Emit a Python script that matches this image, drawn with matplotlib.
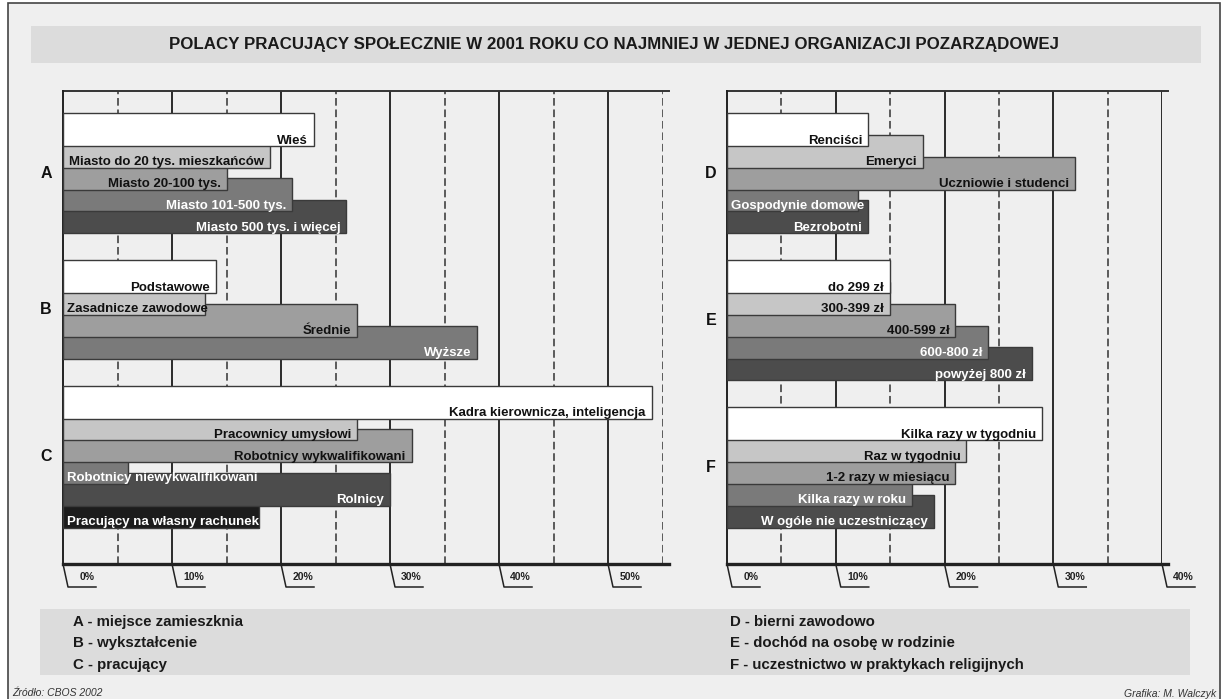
import matplotlib
matplotlib.use("Agg")
import matplotlib.pyplot as plt
import matplotlib.transforms as mtransforms
from matplotlib.patches import Rectangle

plt.rcParams['font.family'] = ['Liberation Sans', 'DejaVu Sans']

TITLE = "POLACY PRACUJĄCY SPOŁECZNIE W 2001 ROKU CO NAJMNIEJ W JEDNEJ ORGANIZACJI POZARZĄDOWEJ"

# A - miejsce zamieszkania
labels_a = ["Wieś", "Miasto do 20 tys. mieszkańców", "Miasto 20-100 tys.",
            "Miasto 101-500 tys.", "Miasto 500 tys. i więcej"]
values_a = [23, 19, 15, 21, 26]
# B - wyksztalcenie
labels_b = ["Podstawowe", "Zasadnicze zawodowe", "Średnie", "Wyższe"]
values_b = [14, 13, 27, 38]
# C - pracujacy
labels_c = ["Kadra kierownicza, inteligencja", "Pracownicy umysłowi",
            "Robotnicy wykwalifikowani", "Robotnicy niewykwalifikowani",
            "Rolnicy", "Pracujący na własny rachunek"]
values_c = [54, 27, 32, 6, 30, 18]
# D - bierni zawodowo
labels_d = ["Renciści", "Emeryci", "Uczniowie i studenci", "Gospodynie domowe", "Bezrobotni"]
values_d = [13, 18, 32, 12, 13]
# E - dochod
labels_e = ["do 299 zł", "300-399 zł", "400-599 zł", "600-800 zł", "powyżej 800 zł"]
values_e = [15, 15, 21, 24, 28]
# F - praktyki religijne
labels_f = ["Kilka razy w tygodniu", "Raz w tygodniu", "1-2 razy w miesiącu",
            "Kilka razy w roku", "W ogóle nie uczestniczący"]
values_f = [29, 22, 21, 17, 19]

legend_left = ["A - miejsce zamieszknia", "B - wykształcenie", "C - pracujący"]
legend_right = ["D - bierni zawodowo", "E - dochód na osobę w rodzinie",
                "F - uczestnictwo w praktykach religijnych"]
ticks_left = [0, 10, 20, 30, 40, 50]
ticks_right = [0, 10, 20, 30, 40]

SHADES = ["#ffffff", "#c6c6c6", "#9e9e9e", "#7a7a7a", "#4c4c4c", "#1c1c1c"]
W, H = 1223, 699
PANEL_TOP, PANEL_BOTTOM = 91, 564
PH = PANEL_BOTTOM - PANEL_TOP
BAR_H, STEP, GAP = 33, 21.8, 27

fig = plt.figure(figsize=(W / 100, H / 100), dpi=100)
fig.patch.set_facecolor("white")
bg = fig.add_axes([0, 0, 1, 1])
bg.set_xlim(0, W)
bg.set_ylim(H, 0)
bg.axis("off")

# ramka, pas tytulu, pas legendy
bg.add_patch(Rectangle((8, 3), 1212, 720, fc="#efefef", ec="#444444", lw=1.2))
bg.add_patch(Rectangle((31, 26), 1170, 37, fc="#dcdcdc", ec="none"))
bg.add_patch(Rectangle((40, 609), 1150, 66, fc="#dcdcdc", ec="none"))
bg.text(614, 45, TITLE, ha="center", va="center", fontsize=12.2,
        fontweight="bold", color="#1a1a1a")

for i, txt in enumerate(legend_left):
    bg.text(73, 622 + i * 21.5, txt, ha="left", va="center", fontsize=10.8,
            fontweight="bold", color="#1a1a1a")
for i, txt in enumerate(legend_right):
    bg.text(730, 622 + i * 21.5, txt, ha="left", va="center", fontsize=10.8,
            fontweight="bold", color="#1a1a1a")

bg.text(12, 693, "Źródło: CBOS 2002", ha="left", va="center", fontsize=7.5,
        style="italic", color="#333333")
bg.text(1216, 694, "Grafika: M. Walczyk", ha="right", va="center", fontsize=7.5,
        style="italic", color="#333333")

renderer = fig.canvas.get_renderer()


def make_panel(x0, width, xmax, ticks):
    ax = fig.add_axes([x0 / W, (H - PANEL_BOTTOM) / H, width / W, PH / H])
    ax.set_xlim(0, xmax)
    ax.set_ylim(PH, 0)
    ax.patch.set_alpha(0)
    ax.set_xticks([])
    ax.set_yticks([])
    for v in range(5, xmax + 1, 5):
        if v % 10 == 0:
            ax.axvline(v, color="#2a2a2a", lw=1.4, zorder=1)
        else:
            ax.axvline(v, color="#333333", lw=1.1, ls=(0, (5, 2.5)), zorder=1)
    for side in ["right", "top", "bottom"]:
        ax.spines[side].set_visible(False)
    ax.spines["left"].set_linewidth(1.4)
    ax.spines["left"].set_color("#222222")
    ppu = width / xmax
    ext = xmax + 6 / ppu
    ax.plot([0, ext], [0, 0], color="#333333", lw=1.4, clip_on=False, zorder=2)
    ax.plot([0, ext], [PH, PH], color="#222222", lw=2.4, clip_on=False, zorder=30)
    # podpisy osi w "zakladkach"
    for t in ticks:
        ax.plot([t, t + 5 / ppu, t + 33 / ppu], [PH, PH + 23, PH + 23],
                color="#222222", lw=1.1, clip_on=False)
        ax.text(t + 32 / ppu, PH + 13, f"{t}%", ha="right", va="center",
                fontsize=7.5, fontweight="bold", color="#222222")
    return ax, ppu


def draw_group(ax, ppu, labels, values, top, letter, letter_x):
    trans = mtransforms.blended_transform_factory(bg.transData, ax.transData)
    for i, (lab, val) in enumerate(zip(labels, values)):
        y = top + i * STEP
        ax.barh(y + BAR_H / 2, val, height=BAR_H, color=SHADES[i],
                edgecolor="#3a3a3a", lw=1, zorder=10 - i)
        col = "#111111" if i < 3 else "white"
        t = ax.text(val - 6 / ppu, y + BAR_H - 2.5, lab, ha="right", va="baseline",
                    fontsize=9.5, fontweight="bold", color=col, zorder=20)
        left_px = t.get_window_extent(renderer).x0
        if left_px < ax.transData.transform((0, 0))[0] + 4:
            t.set_ha("left")
            t.set_x(4 / ppu)
    bottom = top + (len(labels) - 1) * STEP + BAR_H
    ax.text(letter_x, (top + bottom) / 2, letter, transform=trans, ha="center",
            va="center", fontsize=11.5, fontweight="bold", color="#111111")
    return bottom + GAP


ax1, ppu1 = make_panel(63, 599.5, 55, ticks_left)
ax2, ppu2 = make_panel(727, 435, 40, ticks_right)

top = 22
top = draw_group(ax1, ppu1, labels_a, values_a, top, "A", 46)
top = draw_group(ax1, ppu1, labels_b, values_b, top, "B", 46)
top = draw_group(ax1, ppu1, labels_c, values_c, top, "C", 46)

top = 22
top = draw_group(ax2, ppu2, labels_d, values_d, top, "D", 711)
top = draw_group(ax2, ppu2, labels_e, values_e, top, "E", 711)
top = draw_group(ax2, ppu2, labels_f, values_f, top, "F", 711)

fig.savefig("out.png", dpi=100)
